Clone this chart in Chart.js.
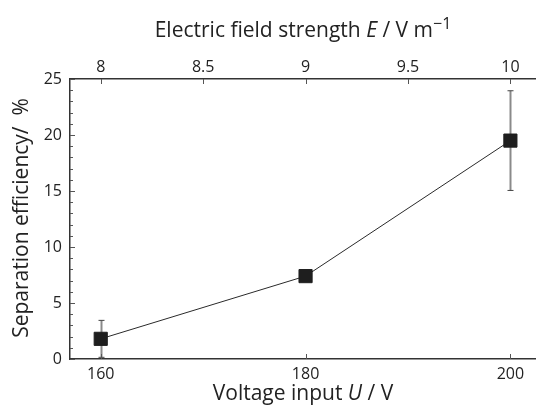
<!DOCTYPE html>
<html lang="en">
<head>
<meta charset="UTF-8">
<title>Separation efficiency vs voltage</title>
<style>
  html, body { margin: 0; padding: 0; background: #fff; }
  #wrap { width: 536px; height: 414px; }
</style>
<script src="https://cdn.jsdelivr.net/npm/chart.js@4"></script>
</head>
<body>
<div id="wrap"><canvas id="chart"></canvas></div>
<script>
const voltage = [160, 180, 200];
const efficiency = [1.8, 7.4, 19.5];
const efficiencyErr = [1.65, 0, 4.45];

const voltageTicks = [160, 180, 200];
const fieldTicks = [8, 8.5, 9, 9.5, 10];
const efficiencyTicks = [0, 5, 10, 15, 20, 25];

const FONT = "'Open Sans', 'Noto Sans', sans-serif";
const TEXT = '#222';
const AXIS = '#333';

// titles with italic symbols and superscript
const topTitle = [{t: 'Electric field strength '}, {t: 'E', i: true}, {t: ' / V m'}, {t: '\u22121', sup: true}];
const bottomTitle = [{t: 'Voltage input '}, {t: 'U', i: true}, {t: ' / V'}];
const leftTitle = [{t: 'Separation efficiency/  %'}];

function partFont(p, size) {
  return (p.i ? 'italic ' : '') + (p.sup ? Math.round(size * 0.75) : size) + 'px ' + FONT;
}

function drawRich(ctx, parts, cx, cy, size) {
  let total = 0;
  parts.forEach(p => { ctx.font = partFont(p, size); total += ctx.measureText(p.t).width; });
  let x = cx - total / 2;
  ctx.textBaseline = 'alphabetic';
  ctx.textAlign = 'left';
  parts.forEach(p => {
    ctx.font = partFont(p, size);
    ctx.fillText(p.t, x, p.sup ? cy - size * 0.4 : cy);
    x += ctx.measureText(p.t).width;
  });
}

const titles = {
  id: 'titles',
  afterDraw(chart) {
    const {ctx, chartArea: a} = chart;
    const cx = (a.left + a.right) / 2;
    ctx.save();
    ctx.fillStyle = TEXT;
    drawRich(ctx, topTitle, cx, 37, 21);
    drawRich(ctx, bottomTitle, cx, 400, 21);
    ctx.translate(28, (a.top + a.bottom) / 2 - 1);
    ctx.rotate(-Math.PI / 2);
    drawRich(ctx, leftTitle, 0, 0, 21);
    ctx.restore();
  }
};

const tickMarks = {
  id: 'tickMarks',
  afterDatasetsDraw(chart) {
    const {ctx, chartArea: a, scales: {x, x2, y}} = chart;
    ctx.save();
    ctx.strokeStyle = '#555';
    ctx.lineWidth = 1;
    ctx.beginPath();
    for (let v = y.min; v <= y.max; v++) {
      const py = Math.round(y.getPixelForValue(v)) + 0.5;
      const len = efficiencyTicks.includes(v) ? 5 : 3;
      ctx.moveTo(a.left, py); ctx.lineTo(a.left + len, py);
    }
    voltageTicks.forEach(v => {
      const px = Math.round(x.getPixelForValue(v)) + 0.5;
      ctx.moveTo(px, a.bottom); ctx.lineTo(px, a.bottom - 5);
    });
    fieldTicks.forEach(v => {
      const px = Math.round(x2.getPixelForValue(v)) + 0.5;
      ctx.moveTo(px, a.top); ctx.lineTo(px, a.top + 5);
    });
    ctx.stroke();
    ctx.restore();
  }
};

const errorBars = {
  id: 'errorBars',
  beforeDatasetsDraw(chart) {
    const {ctx, scales: {x, y}} = chart;
    ctx.save();
    voltage.forEach((v, i) => {
      const e = efficiencyErr[i];
      if (!e) return;
      const px = Math.round(x.getPixelForValue(v)) + 0.5;
      const top = y.getPixelForValue(efficiency[i] + e);
      const bot = y.getPixelForValue(efficiency[i] - e);
      ctx.strokeStyle = '#8a8a8a';
      ctx.lineWidth = 2;
      ctx.beginPath();
      ctx.moveTo(px, top); ctx.lineTo(px, bot);
      ctx.stroke();
      ctx.strokeStyle = '#444';
      ctx.lineWidth = 1;
      ctx.beginPath();
      ctx.moveTo(px - 3, top); ctx.lineTo(px + 3, top);
      ctx.moveTo(px - 3, bot); ctx.lineTo(px + 3, bot);
      ctx.stroke();
    });
    ctx.restore();
  }
};

function fixedTicks(list) {
  return scale => { scale.ticks = list.map(v => ({value: v})); };
}

function fitHeight(h) {
  return scale => { scale.height = h; scale.paddingLeft = 0; scale.paddingRight = 0; };
}

const tickFont = {family: FONT, size: 16};

new Chart(document.getElementById('chart'), {
  type: 'scatter',
  data: {
    datasets: [{
      data: voltage.map((v, i) => ({x: v, y: efficiency[i]})),
      showLine: true,
      borderColor: '#2a2a2a',
      borderWidth: 1,
      pointStyle: 'rect',
      pointRadius: 9.3,
      pointBackgroundColor: '#1e1e1e',
      pointBorderColor: '#1e1e1e',
      pointBorderWidth: 1,
      xAxisID: 'x',
      yAxisID: 'y'
    }]
  },
  options: {
    responsive: true,
    maintainAspectRatio: false,
    animation: false,
    layout: {padding: 0, autoPadding: false},
    plugins: {legend: {display: false}, tooltip: {enabled: false}},
    scales: {
      x: {
        type: 'linear', position: 'bottom', min: 157, max: 202.5,
        grid: {display: false, drawTicks: false},
        border: {display: true, color: AXIS, width: 1.5},
        ticks: {padding: 6, color: TEXT, font: tickFont, includeBounds: false, callback: v => String(v)},
        afterBuildTicks: fixedTicks(voltageTicks),
        afterFit: fitHeight(55)
      },
      x2: {
        type: 'linear', position: 'top', min: 7.85, max: 10.125,
        grid: {display: false, drawTicks: false},
        border: {display: true, color: AXIS, width: 1.5},
        ticks: {padding: 2, color: TEXT, font: tickFont, includeBounds: false, callback: v => String(v)},
        afterBuildTicks: fixedTicks(fieldTicks),
        afterFit: fitHeight(79)
      },
      y: {
        type: 'linear', position: 'left', min: 0, max: 25,
        grid: {display: false, drawTicks: false},
        border: {display: true, color: AXIS, width: 1.5},
        ticks: {padding: 8, color: TEXT, font: tickFont, includeBounds: false, callback: v => String(v)},
        afterBuildTicks: fixedTicks(efficiencyTicks),
        afterFit: s => { s.width = 70; s.paddingTop = 0; s.paddingBottom = 0; }
      }
    }
  },
  plugins: [errorBars, tickMarks, titles]
});
</script>
</body>
</html>
